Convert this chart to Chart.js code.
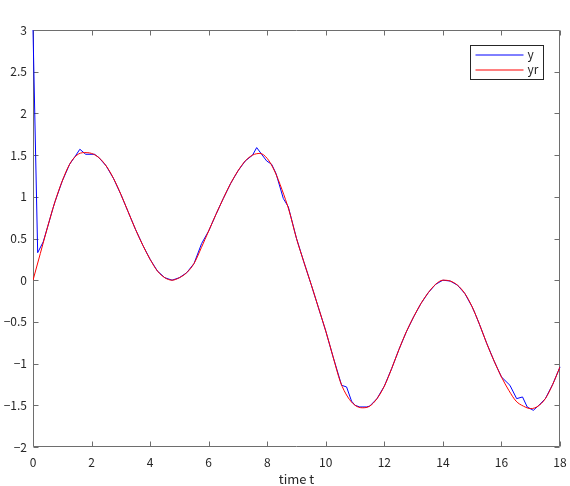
<!DOCTYPE html>
<html><head><meta charset="utf-8">
<script src="https://cdn.jsdelivr.net/npm/chart.js@4.4.0/dist/chart.umd.min.js"></script>
<style>html,body{margin:0;padding:0;background:#fff}canvas{display:block}</style>
</head><body>
<canvas id="c" width="570" height="486"></canvas>
<script>
// ---- data ----
const seriesNames = ['y', 'yr'];
const seriesColors = ['#0000ff', '#ff0000'];
const xTitle = 'time t';

// reference signal yr
const tRef = [0,0.25,0.5,0.75,1,1.25,1.5,1.75,2,2.25,2.5,2.75,3,3.25,3.5,3.75,4,4.25,4.5,4.75,
  5,5.25,5.5,5.75,6,6.25,6.5,6.75,7,7.25,7.5,7.75,8,8.25,8.5,8.75,9,9.25,9.5,9.75,
  10,10.25,10.5,10.75,11,11.25,11.5,11.75,12,12.25,12.5,12.75,13,13.25,13.5,13.75,
  14,14.25,14.5,14.75,15,15.25,15.5,15.75,16,16.25,16.5,16.75,17,17.25,17.5,17.75,18];
const yrValues = [0,0.32,0.64,0.94,1.19,1.39,1.50,1.53,1.52,1.47,1.37,1.22,1.03,0.82,0.61,0.42,0.25,0.11,0.03,0.00,
  0.03,0.09,0.20,0.39,0.59,0.79,0.98,1.16,1.31,1.43,1.50,1.52,1.46,1.31,1.09,0.83,0.50,0.22,-0.05,-0.33,
  -0.61,-0.92,-1.22,-1.40,-1.50,-1.53,-1.51,-1.42,-1.27,-1.06,-0.83,-0.62,-0.44,-0.28,-0.15,-0.05,
  0.00,-0.01,-0.06,-0.16,-0.32,-0.53,-0.76,-0.97,-1.16,-1.32,-1.45,-1.51,-1.54,-1.51,-1.42,-1.25,-1.04];

// output y
const tOut = [0,0.16,0.35,0.5,0.68,0.75,1,1.25,1.45,1.6,1.8,2.1,2.25,2.5,2.75,3,3.25,3.5,3.75,4,4.25,4.5,4.75,
  5,5.25,5.5,5.76,6,6.25,6.5,6.75,7,7.25,7.5,7.64,7.98,8.15,8.3,8.55,8.72,9,9.25,9.5,9.75,
  10,10.25,10.54,10.71,10.88,11.0,11.16,11.39,11.5,11.75,12,12.25,12.5,12.75,13,13.25,13.5,13.75,
  14,14.25,14.5,14.75,15,15.1,15.25,15.5,15.75,16,16.29,16.52,16.72,16.88,17.09,17.28,17.5,17.75,18];
const yValues = [3.0,0.33,0.46,0.64,0.86,0.94,1.19,1.39,1.49,1.57,1.51,1.51,1.47,1.37,1.22,1.03,0.82,0.61,0.42,0.25,0.11,0.03,0.00,
  0.03,0.09,0.20,0.44,0.59,0.79,0.98,1.16,1.31,1.43,1.50,1.59,1.43,1.39,1.28,0.98,0.88,0.50,0.22,-0.05,-0.33,
  -0.61,-0.92,-1.26,-1.28,-1.45,-1.50,-1.52,-1.52,-1.51,-1.42,-1.27,-1.06,-0.83,-0.62,-0.44,-0.28,-0.15,-0.05,
  0.00,-0.01,-0.06,-0.16,-0.32,-0.40,-0.53,-0.76,-0.97,-1.16,-1.26,-1.42,-1.40,-1.52,-1.56,-1.50,-1.42,-1.25,-1.04];

const xTicks = [0,2,4,6,8,10,12,14,16,18];
const yTicks = [-2,-1.5,-1,-0.5,0,0.5,1,1.5,2,2.5,3];

// ---- chart ----
const AXIS_COLOR = '#6e6e6e';
const TEXT_COLOR = '#262626';
const FONT_FAMILY = "'Noto Sans CJK JP', 'DejaVu Sans', sans-serif";
const fmt = v => String(v).replace('-', '\u2212');

const framePlugin = {
  id: 'frame',
  beforeDatasetsDraw(chart) {
    const { ctx, chartArea: { left, right, top, bottom }, scales: { x, y } } = chart;
    ctx.save();
    ctx.strokeStyle = AXIS_COLOR;
    ctx.lineWidth = 1;
    const L = Math.round(left) + 0.5, R = Math.round(right) - 0.5;
    const T = Math.round(top) + 0.5, B = Math.round(bottom) - 0.5;
    ctx.beginPath();
    ctx.moveTo(L, T); ctx.lineTo(R, T); ctx.lineTo(R, B); ctx.lineTo(L, B); ctx.closePath();
    const tl = 5;
    xTicks.forEach(v => {
      const px = Math.round(x.getPixelForValue(v)) + 0.5;
      ctx.moveTo(px, B); ctx.lineTo(px, B - tl);
      ctx.moveTo(px, T); ctx.lineTo(px, T + tl);
    });
    yTicks.forEach(v => {
      const py = Math.round(y.getPixelForValue(v)) + 0.5;
      ctx.moveTo(L, py); ctx.lineTo(L + tl, py);
      ctx.moveTo(R, py); ctx.lineTo(R - tl, py);
    });
    ctx.stroke();
    ctx.restore();
  },
  afterDraw(chart) {
    const { ctx, chartArea: { right, top } } = chart;
    ctx.save();
    ctx.lineWidth = 1;
    // legend box (top-right inside plot)
    const bx = Math.round(right) - 89.5, by = Math.round(top) + 15.5, bw = 73, bh = 34;
    ctx.fillStyle = '#fff';
    ctx.fillRect(bx, by, bw, bh);
    ctx.strokeStyle = '#262626';
    ctx.strokeRect(bx, by, bw, bh);
    ctx.font = "12px " + FONT_FAMILY;
    ctx.textBaseline = 'middle';
    ctx.textAlign = 'left';
    seriesNames.forEach((name, i) => {
      const ly = Math.round(by + 9 + i * 15.5);
      ctx.strokeStyle = seriesColors[i];
      ctx.beginPath();
      ctx.moveTo(bx + 5, ly);
      ctx.lineTo(bx + 53, ly);
      ctx.stroke();
      ctx.fillStyle = TEXT_COLOR;
      ctx.fillText(name, bx + 57, ly - 1);
    });
    ctx.restore();
  }
};

new Chart(document.getElementById('c'), {
  type: 'line',
  data: {
    datasets: [
      { label: seriesNames[0], data: tOut.map((t, i) => ({ x: t, y: yValues[i] })),
        borderColor: seriesColors[0], borderWidth: 1, pointRadius: 0, tension: 0, order: 1, fill: false, clip: 2 },
      { label: seriesNames[1], data: tRef.map((t, i) => ({ x: t, y: yrValues[i] })),
        borderColor: seriesColors[1], borderWidth: 1, pointRadius: 0, cubicInterpolationMode: 'monotone', order: 0, fill: false }
    ]
  },
  options: {
    responsive: false,
    animation: false,
    layout: { padding: { top: 30, right: 10, left: 0, bottom: 0 } },
    plugins: { legend: { display: false }, tooltip: { enabled: false } },
    scales: {
      x: {
        type: 'linear', min: 0, max: 18,
        afterBuildTicks: s => { s.ticks = xTicks.map(v => ({ value: v })); },
        afterFit: s => { s.height = 39; s.paddingLeft = 0; s.paddingRight = 0; },
        grid: { display: false, drawTicks: false },
        border: { display: false },
        ticks: { padding: 8, color: TEXT_COLOR, font: { family: FONT_FAMILY, size: 12 }, callback: fmt, maxRotation: 0 },
        title: { display: true, text: xTitle, color: TEXT_COLOR, padding: { top: 0, bottom: 0 },
                 font: { family: FONT_FAMILY, size: 13, lineHeight: 1 } }
      },
      y: {
        type: 'linear', min: -2, max: 3,
        afterBuildTicks: s => { s.ticks = yTicks.map(v => ({ value: v })); },
        afterFit: s => { s.width = 33; s.paddingTop = 0; s.paddingBottom = 0; },
        grid: { display: false, drawTicks: false },
        border: { display: false },
        ticks: { padding: 6, color: TEXT_COLOR, font: { family: FONT_FAMILY, size: 12 }, callback: fmt }
      }
    }
  },
  plugins: [framePlugin]
});
</script>
</body></html>
